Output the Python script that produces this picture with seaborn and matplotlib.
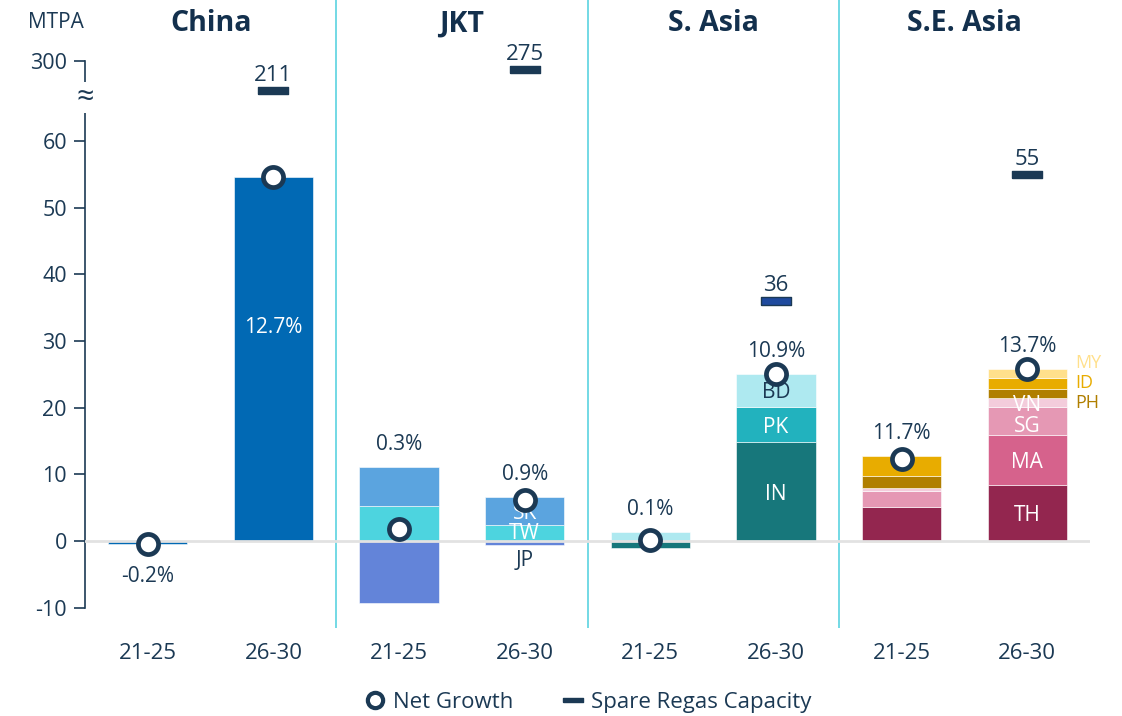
import numpy as np
import pandas as pd
import matplotlib.pyplot as plt
import matplotlib.transforms as mtransforms
from matplotlib.lines import Line2D
import seaborn as sns

# categories
regions = ["China", "JKT", "S. Asia", "S.E. Asia"]
periods = ["21-25", "26-30"]
slots = [r + " " + p for r in regions for p in periods]

# stacked segments per bar (MTPA), one list per country
cn = [-0.4, 54.6, 0, 0, 0, 0, 0, 0]
jp = [0, 0, -9.3, -0.6, 0, 0, 0, 0]
tw = [0, 0, 5.3, 2.4, 0, 0, 0, 0]
sk = [0, 0, 5.8, 4.2, 0, 0, 0, 0]
ind = [0, 0, 0, 0, -1.1, 14.8, 0, 0]
pk = [0, 0, 0, 0, 0, 5.3, 0, 0]
bd = [0, 0, 0, 0, 1.4, 5.0, 0, 0]
th = [0, 0, 0, 0, 0, 0, 5.15, 8.4]
ma = [0, 0, 0, 0, 0, 0, 0, 7.5]
sg = [0, 0, 0, 0, 0, 0, 2.4, 4.15]
vn = [0, 0, 0, 0, 0, 0, 0.4, 1.35]
ph = [0, 0, 0, 0, 0, 0, 1.85, 1.4]
idn = [0, 0, 0, 0, 0, 0, 3.0, 1.6]
my = [0, 0, 0, 0, 0, 0, -0.2, 1.4]

net_growth = [-0.45, 54.6, 1.8, 6.1, 0.2, 25.1, 12.3, 25.8]
growth_pct = ["-0.2%", "12.7%", "0.3%", "0.9%", "0.1%", "10.9%", "11.7%", "13.7%"]
spare_regas = [211, 275, 36, 55]   # 26-30 bars only

ytick_vals = [-10, 0, 10, 20, 30, 40, 50, 60, 300]

navy = "#1B3954"
colors = {"CN": "#0169B4", "JP": "#6384D9", "TW": "#4DD4DF", "SK": "#5BA4DF",
          "IN": "#17777B", "PK": "#22B2BE", "BD": "#AEE9F0",
          "TH": "#93264F", "MA": "#D6628C", "SG": "#E598B4", "VN": "#F3CCDB",
          "PH": "#B07F00", "ID": "#E8AC00", "MY": "#FFE08C"}
layers = [("CN", cn), ("JP", jp), ("TW", tw), ("SK", sk), ("IN", ind), ("PK", pk),
          ("BD", bd), ("TH", th), ("MA", ma), ("SG", sg), ("VN", vn), ("PH", ph),
          ("ID", idn), ("MY", my)]

sns.set_theme(style="white")
plt.rcParams["font.family"] = ["Open Sans", "DejaVu Sans"]

fig = plt.figure(figsize=(11.22, 7.16), dpi=100)
ax = fig.add_axes([85 / 1122, 1 - 628 / 716, 1005 / 1122, 628 / 716])

xpos = np.arange(len(slots))
pos_base = np.zeros(len(slots))
neg_base = np.zeros(len(slots))
bottoms = {}
for code, vals in layers:
    vals = np.array(vals, dtype=float)
    bottom = np.where(vals >= 0, pos_base, neg_base)
    bottoms[code] = bottom.copy()
    keep = vals != 0
    df = pd.DataFrame({"slot": np.array(slots)[keep], "v": vals[keep]})
    sns.barplot(data=df, x="slot", y="v", order=slots, color=colors[code],
                saturation=1, width=0.63, errorbar=None, bottom=bottom[keep],
                edgecolor="white", linewidth=0.4, zorder=2, ax=ax)
    pos_base += np.clip(vals, 0, None)
    neg_base += np.clip(vals, None, 0)

ax.axhline(0, color="#E2E2E2", lw=2, zorder=3)
for xs in xpos[1::2][:-1] + 0.5:
    ax.axvline(xs, color="#5BD3E0", lw=1.2, zorder=1)

# net growth markers
sns.scatterplot(x=xpos, y=net_growth, marker="o", s=210, color="white",
                edgecolor=navy, linewidth=3.4, zorder=6, legend=False, ax=ax)

# spare regas capacity dashes
dash = [(-1, -0.24), (1, -0.24), (1, 0.24), (-1, 0.24), (-1, -0.24)]
sns.scatterplot(x=xpos[1::2], y=spare_regas, marker=dash, s=470, color=navy,
                edgecolor=navy, linewidth=1, zorder=6, legend=False, ax=ax)
ax.collections[-1].set_facecolors([navy, navy, "#1F4A9E", navy])
for x, v in zip(xpos[1::2], spare_regas):
    ax.annotate(str(v), (x, v), xytext=(0, 11), textcoords="offset points",
                ha="center", va="center", fontsize=16, color=navy, zorder=7)

# growth percentage labels
for i, lab in enumerate(growth_pct):
    if i == 0:
        ax.text(i, -5.4, lab, ha="center", va="center", fontsize=15, color=navy)
    elif i == 1:
        ax.text(i, 32, lab, ha="center", va="center", fontsize=15, color="white")
    else:
        ax.text(i, pos_base[i] + 3.3, lab, ha="center", va="center", fontsize=15, color=navy)

# country labels inside bars
def seg_label(code, vals, i, col, dy=-0.4):
    mid = bottoms[code][i] + vals[i] / 2
    ax.text(i, mid + dy, code, ha="center", va="center", fontsize=15, color=col, zorder=4)

seg_label("SK", sk, 3, "white")
seg_label("TW", tw, 3, "white", dy=-0.1)
ax.text(3, -2.85, "JP", ha="center", va="center", fontsize=15, color=navy)
seg_label("IN", ind, 5, "white")
seg_label("PK", pk, 5, "white")
seg_label("BD", bd, 5, navy)
seg_label("TH", th, 7, "white")
seg_label("MA", ma, 7, "white")
seg_label("SG", sg, 7, "white", dy=-0.8)
seg_label("VN", vn, 7, "white")
for code, yv in [("MY", 26.7), ("ID", 23.7), ("PH", 20.7)]:
    ax.text(7.38, yv, code, ha="left", va="center", fontsize=13,
            color=colors[code], clip_on=False)

# broken y axis: values above 60 are compressed
k = 0.05
def fwd(v):
    v = np.asarray(v, dtype=float)
    return np.where(v <= 60, v, 60 + (v - 60) * k)
def inv(v):
    v = np.asarray(v, dtype=float)
    return np.where(v <= 60, v, 60 + (v - 60) / k)
ax.set_yscale("function", functions=(fwd, inv))
ax.set_ylim(-13.05, float(inv(81.15)))
ax.set_xlim(-0.5, 7.5)

ax.set_yticks(ytick_vals, labels=[str(v) for v in ytick_vals])
ax.set_xticks(xpos, labels=[p for r in regions for p in periods])
ax.tick_params(axis="y", which="both", left=True, length=8, width=1.2, color=navy,
               labelsize=15.5, labelcolor=navy, pad=5)
ax.tick_params(axis="x", length=0, labelsize=16, labelcolor=navy, pad=11)
ax.minorticks_off()
ax.set_xlabel("")
ax.set_ylabel("")
for s in ["top", "right", "bottom"]:
    ax.spines[s].set_visible(False)
ax.spines["left"].set_color(navy)
ax.spines["left"].set_linewidth(1.2)
ax.spines["left"].set_bounds(-10, 300)

trans = mtransforms.blended_transform_factory(ax.transAxes, ax.transData)
ax.text(0, 190, "≈", transform=trans, ha="center", va="center", fontsize=22,
        color=navy, zorder=8, bbox=dict(facecolor="white", edgecolor="none", pad=0.2))

ttrans = mtransforms.blended_transform_factory(ax.transData, ax.transAxes)
for i, r in enumerate(regions):
    ax.text(2 * i + 0.5, 0.962, r, transform=ttrans, ha="center", va="center",
            fontsize=20.5, fontweight="bold", color="#13304D")

fig.text(56 / 1122, 1 - 22 / 716, "MTPA", ha="center", va="center", fontsize=15, color=navy)

handles = [Line2D([], [], marker="o", ls="none", mfc="white", mec=navy, mew=3, ms=11),
           Line2D([], [], marker=dash, ls="none", mfc=navy, mec=navy, ms=15)]
fig.legend(handles, ["Net Growth", "Spare Regas Capacity"], loc="lower center",
           bbox_to_anchor=(0.524, -0.024), ncol=2, frameon=False, fontsize=16,
           handletextpad=0.3, columnspacing=2.2, handlelength=1.0, labelcolor=navy)

fig.savefig("out.png", dpi=100)
